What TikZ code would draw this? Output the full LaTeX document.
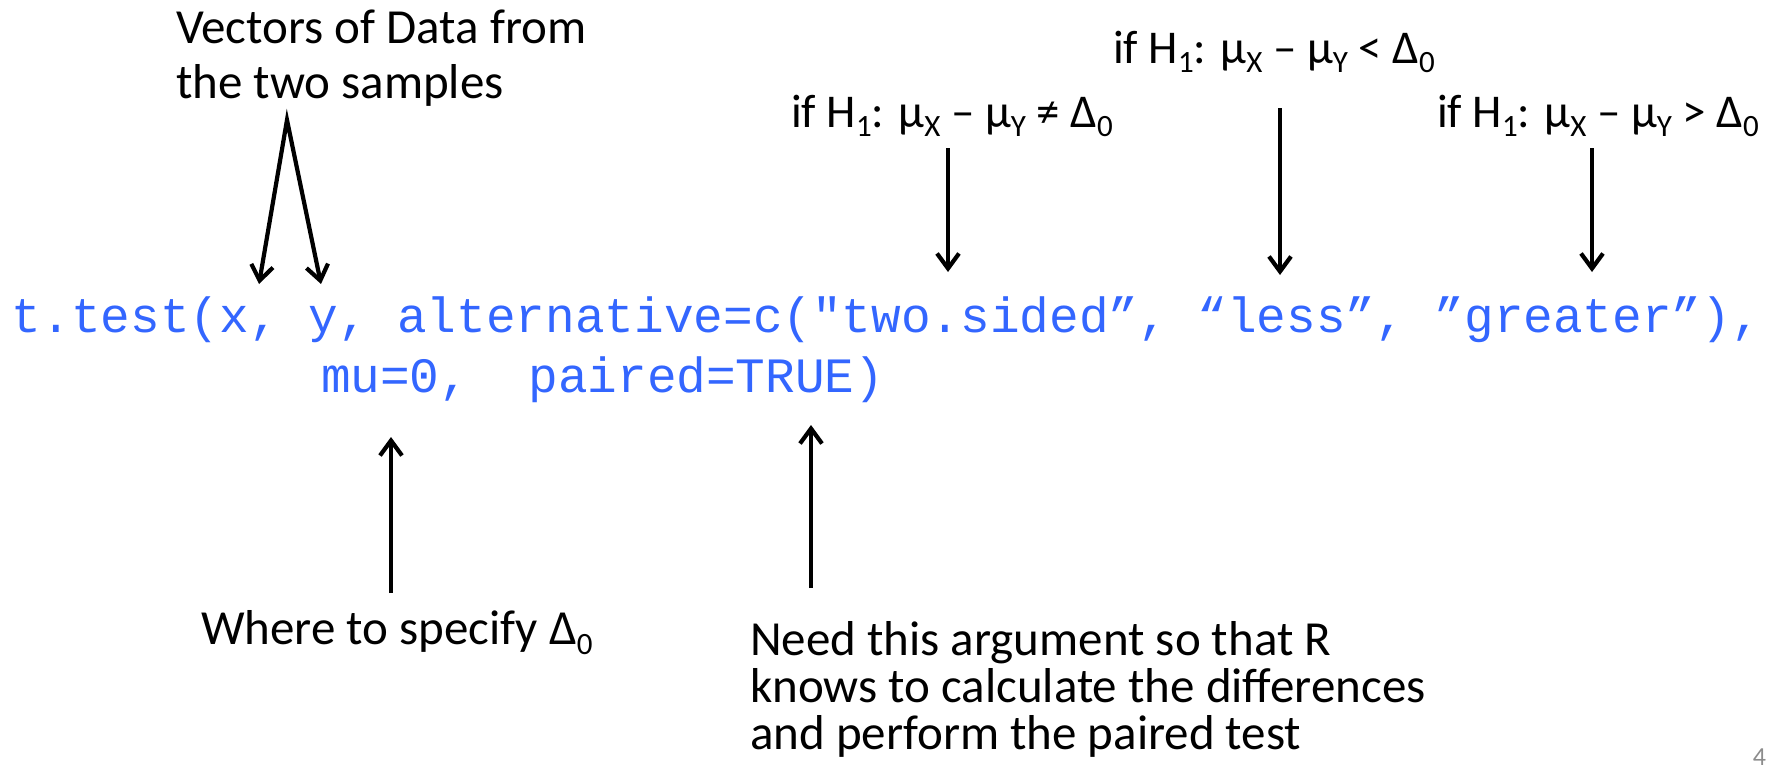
\documentclass[tikz,border=0pt]{standalone}
\usepackage{fontspec}
\setmainfont{Carlito}
\setmonofont{Liberation Mono}
\usetikzlibrary{arrows.meta}
\definecolor{codeblue}{RGB}{51,102,255}
\definecolor{pggray}{RGB}{140,140,140}
\newcommand\sbs[1]{\raisebox{-0.21em}{\fontsize{31}{31}\selectfont #1}}
\begin{document}
\begin{tikzpicture}[x=1pt,y=-1pt,
  every node/.style={inner sep=0pt,outer sep=0pt},
  lbl/.style={anchor=base west,font=\fontsize{49}{49}\selectfont},
  hyp/.style={anchor=base west,font=\fontsize{47}{47}\selectfont},
  code/.style={anchor=base west,text=codeblue,font=\ttfamily\fontsize{49.4}{49.4}\selectfont},
  pg/.style={anchor=base east,text=pggray,font=\fontsize{26}{26}\selectfont},
  arr/.style={line width=4.2pt,-{Straight Barb[length=15pt,width=22pt]}},
  varr/.style={line width=4.2pt,line join=miter,{Straight Barb[length=15pt,width=22pt]}-{Straight Barb[length=15pt,width=22pt]}}]
\useasboundingbox (0,0) rectangle (1779,771);
% labels on top
\node[lbl] (v1) at (176,43) {Vectors of Data from};
\node[lbl] (v2) at (176,98) {the two samples};
\node[hyp] (hlt) at (1113,63) {if H\sbs{1}: μ\sbs{X} – μ\sbs{Y} < Δ\sbs{0}};
\node[hyp] (hne) at (791,127) {if H\sbs{1}: μ\sbs{X} – μ\sbs{Y} ≠ Δ\sbs{0}};
\node[hyp] (hgt) at (1437,127) {if H\sbs{1}: μ\sbs{X} – μ\sbs{Y} > Δ\sbs{0}};
% code
\node[code] (c1) at (12,332) {t.test(x, y, alternative=c("two.sided”, “less”, ”greater”),};
\node[code] (c2) at (321,392) {mu=0,~~paired=TRUE)};
% bottom labels
\node[lbl] (w) at (201,644) {Where to specify Δ\sbs{0}};
\node[lbl] (n1) at (750,655) {Need this argument so that R};
\node[lbl] (n2) at (750,702) {knows to calculate the differences};
\node[lbl] (n3) at (750,749) {and perform the paired test};
\node[pg] (pg) at (1766,765) {4};
% arrow end points
\coordinate (va) at (287,120);
\coordinate (vx) at (259,284);
\coordinate (vy) at (321,284);
\coordinate (ne0) at (948,148);
\coordinate (ne1) at (948,272);
\coordinate (lt0) at (1280,108);
\coordinate (lt1) at (1280,275);
\coordinate (gt0) at (1592,148);
\coordinate (gt1) at (1592,272);
\coordinate (mu0) at (391,593);
\coordinate (mu1) at (391,437);
\coordinate (pa0) at (811,588);
\coordinate (pa1) at (811,425);
% arrows
\draw[varr] (vx) -- (va) -- (vy);
\draw[arr] (ne0) -- (ne1);
\draw[arr] (lt0) -- (lt1);
\draw[arr] (gt0) -- (gt1);
\draw[arr] (mu0) -- (mu1);
\draw[arr] (pa0) -- (pa1);
\end{tikzpicture}
\end{document}
